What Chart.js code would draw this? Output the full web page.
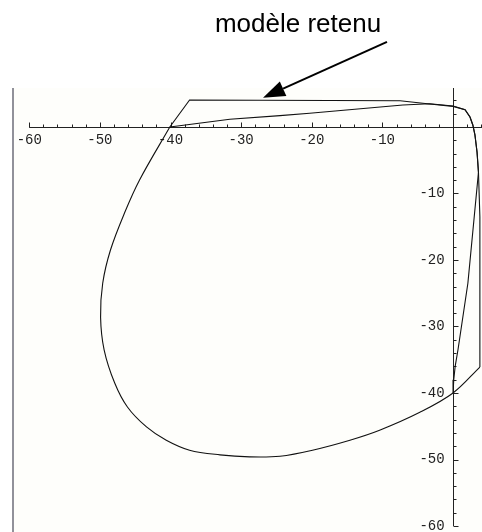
<!DOCTYPE html>
<html lang="fr">
<head>
<meta charset="UTF-8">
<title>modèle retenu</title>
<style>
  html, body { margin: 0; padding: 0; background: #ffffff; }
  canvas { display: block; }
</style>
</head>
<body>
<canvas id="chart" width="482" height="532"></canvas>
<script src="https://cdn.jsdelivr.net/npm/chart.js"></script>
<script>
// valeurs
const xTickLabels = [-60, -50, -40, -30, -20, -10];
const yTickLabels = [-10, -20, -30, -40, -50, -60];

// boucle commune, de (0,-40) jusqu'a (-40,0)
const loopX = [3.8, 0, -4.7, -10.4, -14.6, -19.9, -24.5, -28.8, -33.0, -37.3, -40.6, -43.4, -46.1, -47.9, -49.4, -49.9, -49.6, -48.5, -46.5, -44.4, -40.1];
const loopY = [-36.1, -40, -42.9, -45.6, -47.1, -48.6, -49.5, -49.6, -49.3, -48.6, -47.1, -45.1, -42.1, -38.5, -33.5, -28.6, -23.5, -18.5, -12.9, -8.0, 0];

// modele retenu (trace du haut)
const modelX = [-40.1, -37.3, -7.5, -3.3, 0, 1.7, 2.4, 2.8, 3.1, 3.4, 3.6, 3.8, 3.8];
const modelY = [0, 4.06, 3.95, 3.46, 3.1, 2.6, 1.5, 0.3, -1.2, -3.8, -6.8, -13.5, -36.1];

// autre trace (du bas)
const otherX = [-40.1, -37.9, -31.6, -24.5, -20.3, -7.1, -3.3, 0, 1.7, 2.4, 2.8, 3.1, 3.4, 3.6, 3.0, 2.1, 0.7, 0.3, 0.1, 0];
const otherY = [0, 0.3, 1.16, 1.7, 2.06, 3.3, 3.5, 3.15, 2.6, 1.5, 0.3, -1.2, -3.8, -6.8, -13.5, -23.5, -33.5, -36, -38, -40];

// fleche de l'annotation (coordonnees des donnees)
const arrowFrom = [-9.35, 12.8];
const arrowTo = [-26.9, 4.4];

const toPoints = (xs, ys) => xs.map((v, i) => ({ x: v, y: ys[i] }));

const axesPlugin = {
  id: 'axesMathematica',
  beforeDraw(chart) {
    const { ctx, chartArea: a } = chart;
    ctx.save();
    ctx.fillStyle = '#fefefb';
    ctx.fillRect(a.left, a.top, a.right - a.left, a.bottom - a.top);
    // trait gauche du cadre
    ctx.strokeStyle = '#6c6c78';
    ctx.lineWidth = 1.5;
    ctx.beginPath();
    ctx.moveTo(a.left, a.top);
    ctx.lineTo(a.left, a.bottom);
    ctx.stroke();
    ctx.restore();
  },
  beforeDatasetsDraw(chart) {
    const { ctx, chartArea: a } = chart;
    const sx = chart.scales.x, sy = chart.scales.y;
    const x0 = Math.round(sx.getPixelForValue(0)) + 0.5;
    const y0 = Math.round(sy.getPixelForValue(0)) + 0.5;
    ctx.save();
    ctx.strokeStyle = '#222';
    ctx.lineWidth = 1;
    ctx.beginPath();
    ctx.moveTo(sx.getPixelForValue(-60), y0);
    ctx.lineTo(a.right, y0);
    ctx.moveTo(x0, a.top);
    ctx.lineTo(x0, sy.getPixelForValue(-60));
    // petites graduations tous les 2
    for (let v = -60; v <= sx.max; v += 2) {
      if (v === 0) continue;
      const p = Math.round(sx.getPixelForValue(v)) + 0.5;
      const len = v % 10 === 0 ? 5 : 3;
      ctx.moveTo(p, y0);
      ctx.lineTo(p, y0 - len);
    }
    for (let v = -60; v <= sy.max; v += 2) {
      if (v === 0) continue;
      const p = Math.round(sy.getPixelForValue(v)) + 0.5;
      const len = v % 10 === 0 ? 5 : 3;
      ctx.moveTo(x0, p);
      ctx.lineTo(x0 + len, p);
    }
    ctx.stroke();
    ctx.restore();
  },
  afterDraw(chart) {
    const { ctx } = chart;
    const sx = chart.scales.x, sy = chart.scales.y;
    const fx = sx.getPixelForValue(arrowFrom[0]), fy = sy.getPixelForValue(arrowFrom[1]);
    const tx = sx.getPixelForValue(arrowTo[0]), ty = sy.getPixelForValue(arrowTo[1]);
    const ang = Math.atan2(ty - fy, tx - fx);
    const headLen = 22, headW = 8;
    const bx = tx - headLen * Math.cos(ang), by = ty - headLen * Math.sin(ang);
    ctx.save();
    ctx.strokeStyle = '#000';
    ctx.fillStyle = '#000';
    ctx.lineWidth = 2;
    ctx.beginPath();
    ctx.moveTo(fx, fy);
    ctx.lineTo(bx, by);
    ctx.stroke();
    ctx.beginPath();
    ctx.moveTo(tx, ty);
    ctx.lineTo(bx + headW * Math.sin(ang), by - headW * Math.cos(ang));
    ctx.lineTo(bx - headW * Math.sin(ang), by + headW * Math.cos(ang));
    ctx.closePath();
    ctx.fill();
    // titre de l'annotation
    ctx.font = '26px "Liberation Sans", Arial, sans-serif';
    ctx.textAlign = 'center';
    ctx.textBaseline = 'alphabetic';
    ctx.fillText('modèle retenu', 298, 32);
    ctx.restore();
  }
};

const lineStyle = {
  showLine: true,
  pointRadius: 0,
  borderColor: '#111',
  borderWidth: 1.1,
  fill: false
};

new Chart(document.getElementById('chart'), {
  type: 'scatter',
  data: {
    datasets: [
      Object.assign({ label: 'boucle', data: toPoints(loopX, loopY), tension: 0.35 }, lineStyle),
      Object.assign({ label: 'modèle retenu', data: toPoints(modelX, modelY), tension: 0 }, lineStyle),
      Object.assign({ label: 'essai', data: toPoints(otherX, otherY), tension: 0 }, lineStyle)
    ]
  },
  options: {
    responsive: false,
    animation: false,
    layout: { padding: { left: 13, top: 88, right: 0, bottom: 0 } },
    plugins: { legend: { display: false }, tooltip: { enabled: false } },
    scales: {
      x: {
        type: 'linear',
        min: -62.3,
        max: 4.1,
        position: { y: 0 },
        grid: { display: false, drawTicks: false },
        border: { display: false },
        afterBuildTicks: s => { s.ticks = xTickLabels.map(v => ({ value: v })); },
        afterFit: s => { s.height = 0; s.paddingLeft = 0; s.paddingRight = 0; },
        ticks: {
          autoSkip: false,
          maxRotation: 0,
          padding: 5,
          color: '#222',
          font: { family: '"Liberation Mono", monospace', size: 14 },
          callback: v => String(v)
        }
      },
      y: {
        type: 'linear',
        min: -60.9,
        max: 5.86,
        position: { x: 0 },
        grid: { display: false, drawTicks: false },
        border: { display: false },
        afterBuildTicks: s => { s.ticks = yTickLabels.map(v => ({ value: v })); },
        afterFit: s => { s.width = 0; s.paddingTop = 0; s.paddingBottom = 0; },
        ticks: {
          autoSkip: false,
          padding: 5,
          color: '#222',
          font: { family: '"Liberation Mono", monospace', size: 14 },
          callback: v => String(v) + ' '
        }
      }
    }
  },
  plugins: [axesPlugin]
});
</script>
</body>
</html>
